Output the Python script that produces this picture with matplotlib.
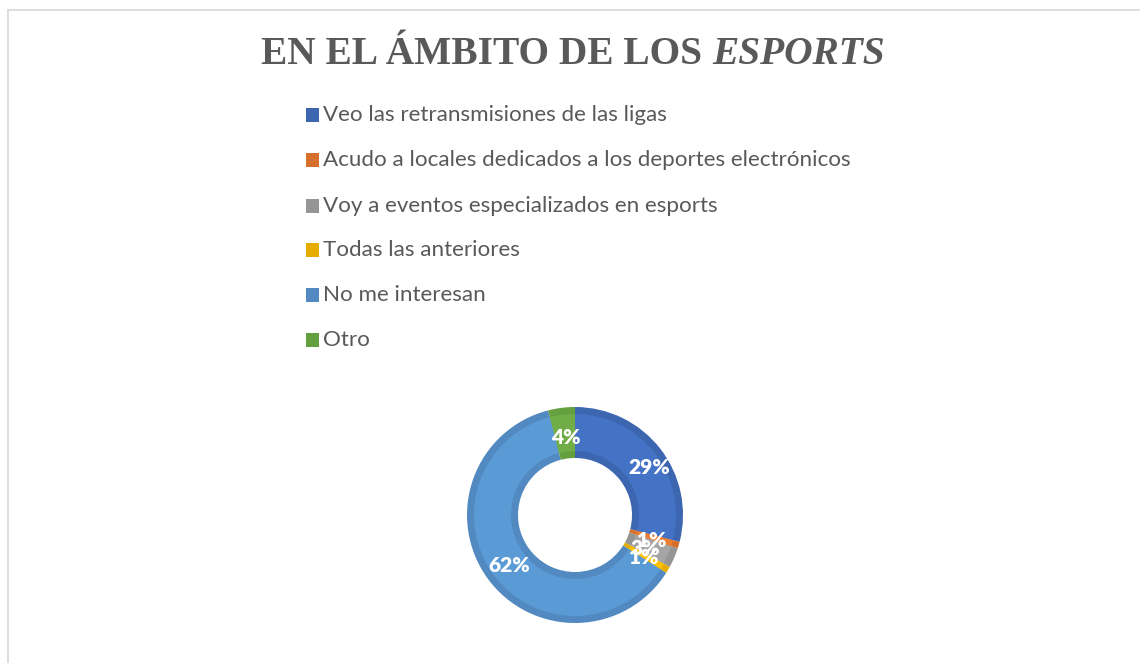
import matplotlib
matplotlib.use("Agg")
import matplotlib.pyplot as plt
from matplotlib.patches import Rectangle
from matplotlib.lines import Line2D
import numpy as np

categories = [
    "Veo las retransmisiones de las ligas",
    "Acudo a locales dedicados a los deportes electrónicos",
    "Voy a eventos especializados en esports",
    "Todas las anteriores",
    "No me interesan",
    "Otro",
]
values = [29, 1, 3, 1, 62, 4]
labels = ["29%", "1%", "3%", "1%", "62%", "4%"]
colors_light = ["#4472C4", "#ED7D31", "#A5A5A5", "#FFC000", "#5B9BD5", "#70AD47"]
colors_dark = ["#3D66B1", "#D5702C", "#959595", "#E6AD00", "#5189C0", "#65A040"]
title_main = "EN EL ÁMBITO DE LOS "
title_ital = "ESPORTS"

W, H = 1140, 663
fig = plt.figure(figsize=(W / 100, H / 100), dpi=100)
ax = fig.add_axes([0, 0, 1, 1])

# border
fig.add_artist(Line2D([8 / W, 1], [1 - 10 / H, 1 - 10 / H], transform=fig.transFigure, color="#D9D9D9", lw=1.2))
fig.add_artist(Line2D([8 / W, 8 / W], [0, 1 - 10 / H], transform=fig.transFigure, color="#D9D9D9", lw=1.2))

cx, cy = 575, H - 515
R, r = 108, 57
band = 7

ax.pie(values, colors=colors_dark, startangle=90, counterclock=False,
       center=(cx, cy), radius=R, wedgeprops=dict(width=R - r, linewidth=0),
       frame=True)
ax.pie(values, colors=colors_light, startangle=90, counterclock=False,
       center=(cx, cy), radius=R - band, wedgeprops=dict(width=R - r - 2 * band, linewidth=0),
       frame=True)
ax.set_xlim(0, W)
ax.set_ylim(0, H)
ax.set_aspect("equal")
ax.axis("off")

total = sum(values)
acc = 0
offsets = {0: (7, -5), 1: (-5, -2), 2: (-8, 0), 3: (-5, 1), 4: (3, 0), 5: (2, -7)}
for i, (v, lab) in enumerate(zip(values, labels)):
    mid = (acc + v / 2) / total * 2 * np.pi
    acc += v
    rr = (R + r) / 2 + 3
    x = cx + rr * np.sin(mid)
    y = cy + rr * np.cos(mid)
    dx, dy = offsets.get(i, (0, 0))
    ax.text(x + dx, y + dy, lab, ha="center", va="center", color="white",
            fontsize=15, fontweight="heavy", family="Lato")

# legend
leg_y = [115, 160, 206, 250, 295, 340]
for i, (cat, col) in enumerate(zip(categories, colors_dark)):
    y = H - leg_y[i]
    ax.add_patch(Rectangle((306, y - 7), 13, 14, color=col, lw=0))
    ax.text(323, y, cat, ha="left", va="center", color="#595959", fontsize=16.1, family="Lato")

# title
fig.canvas.draw()
rend = fig.canvas.get_renderer()
t1 = ax.text(0, H - 55, title_main, ha="left", va="center", color="#595959",
             fontsize=28.4, fontweight="bold", family="Liberation Serif")
t2 = ax.text(0, H - 55, title_ital, ha="left", va="center", color="#595959",
             fontsize=28.4, fontweight="bold", style="italic", family="Liberation Serif")
w1 = t1.get_window_extent(rend).width
w2 = t2.get_window_extent(rend).width
x0 = 573 - (w1 + w2) / 2
t1.set_x(x0)
t2.set_x(x0 + w1)

fig.savefig("out.png", dpi=100)
